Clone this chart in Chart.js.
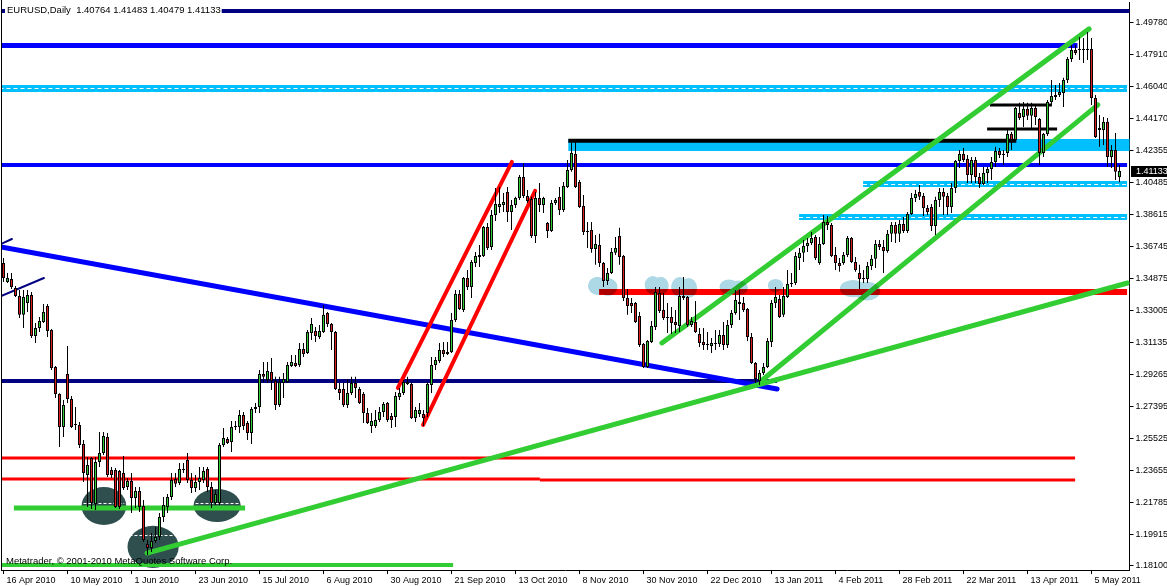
<!DOCTYPE html>
<html>
<head>
<meta charset="utf-8">
<script src="https://cdn.jsdelivr.net/npm/chart.js@4.4.0/dist/chart.umd.min.js"></script>
<style>
  html, body { margin: 0; padding: 0; background: #fff; }
  #wrap { width: 1167px; height: 586px; }
</style>
</head>
<body>
<div id="wrap"><canvas id="chart" width="1167" height="586"></canvas></div>
<script>
// EURUSD daily, 16 Apr 2010 .. 13 May 2011
const dateTicks = ['16 Apr 2010', '10 May 2010', '1 Jun 2010', '23 Jun 2010', '15 Jul 2010', '6 Aug 2010',
  '30 Aug 2010', '21 Sep 2010', '13 Oct 2010', '8 Nov 2010', '30 Nov 2010', '22 Dec 2010', '13 Jan 2011',
  '4 Feb 2011', '28 Feb 2011', '22 Mar 2011', '13 Apr 2011', '5 May 2011'];
const barsPerTick = 16;
const slots = 282;

const priceTicks = [1.18100, 1.19915, 1.21785, 1.23655, 1.25525, 1.27395, 1.29265, 1.31135, 1.33005,
  1.34875, 1.36745, 1.38615, 1.40485, 1.42355, 1.44170, 1.46040, 1.47910, 1.49780];

const opens = [
  1.3576,1.3465,1.3482,1.3430,1.3383,1.3273,1.3342,1.3389,1.3150,1.3196,1.3231,1.3325,1.3185,1.2968,1.2811,1.2618,
  1.2928,1.2782,1.2636,1.2630,1.2519,1.2338,1.2437,1.2169,1.2414,1.2466,1.2560,1.2367,1.2367,1.2361,1.2349,1.2268,
  1.2303,1.2204,1.2245,1.2157,1.1935,1.1911,1.1952,1.1976,1.2093,1.2151,1.2209,1.2315,1.2291,1.2373,1.2426,1.2309,
  1.2262,1.2297,1.2309,1.2373,1.2268,1.2174,1.2174,1.2513,1.2548,1.2531,1.2618,1.2618,1.2688,1.2642,1.2583,1.2723,
  1.2735,1.2928,1.2893,1.2939,1.2887,1.2747,1.2875,1.2881,1.2974,1.2992,1.2980,1.3074,1.3050,1.3167,1.3179,1.3144,
  1.3173,1.3284,1.3220,1.3173,1.2840,1.2840,1.2747,1.2817,1.2875,1.2840,1.2811,1.2700,1.2624,1.2624,1.2659,1.2706,
  1.2758,1.2683,1.2677,1.2794,1.2817,1.2881,1.2869,1.2671,1.2694,1.2694,1.2700,1.2864,1.2980,1.3004,1.3068,1.3056,
  1.3056,1.3243,1.3395,1.3302,1.3488,1.3436,1.3576,1.3611,1.3617,1.3786,1.3669,1.3856,1.3903,1.3915,1.3991,1.3874,
  1.3915,1.3956,1.4078,1.3967,1.3950,1.3734,1.3956,1.3915,1.3810,1.3763,1.3926,1.3962,1.3886,1.4020,1.4119,1.4213,
  1.4049,1.3909,1.3763,1.3769,1.3658,1.3681,1.3576,1.3471,1.3517,1.3635,1.3734,1.3617,1.3372,1.3342,1.3342,1.3267,
  1.3103,1.2968,1.3115,1.3202,1.3400,1.3302,1.3261,1.3261,1.3231,1.3208,1.3383,1.3377,1.3214,1.3231,1.3161,1.3115,
  1.3103,1.3091,1.3109,1.3103,1.3156,1.3097,1.3214,1.3284,1.3348,1.3342,1.3307,1.3144,1.2992,1.2887,1.2934,1.2968,
  1.3115,1.3342,1.3366,1.3273,1.3377,1.3453,1.3459,1.3605,1.3635,1.3675,1.3693,1.3728,1.3576,1.3687,1.3815,1.3798,
  1.3623,1.3576,1.3576,1.3623,1.3722,1.3582,1.3517,1.3488,1.3482,1.3559,1.3600,1.3687,1.3669,1.3646,1.3746,1.3798,
  1.3746,1.3804,1.3763,1.3862,1.3956,1.3991,1.3967,1.3897,1.3903,1.3792,1.3944,1.3991,1.3967,1.3903,1.4014,1.4172,
  1.4213,1.4184,1.4090,1.4178,1.4078,1.4037,1.4102,1.4125,1.4166,1.4230,1.4207,1.4218,1.4329,1.4294,1.4452,1.4429,
  1.4476,1.4435,1.4481,1.4417,1.4218,1.4329,1.4516,1.4557,1.4557,1.4569,1.4645,1.4767,1.4820,1.4820,1.4826,1.4820,
  1.4826,1.4540,1.4364,1.4353,1.4400,1.4195,1.4236,1.40764];
const highs = [
  1.3605,1.3517,1.3517,1.3442,1.3418,1.3418,1.3418,1.3406,1.3225,1.3261,1.3337,1.3337,1.3190,1.2975,1.2815,1.2776,
  1.3091,1.2799,1.2735,1.2647,1.2542,1.2443,1.2443,1.2443,1.2589,1.2589,1.2583,1.2385,1.2379,1.2367,1.2449,1.2320,
  1.2349,1.2268,1.2268,1.2192,1.1958,1.1999,1.2034,1.2116,1.2209,1.2227,1.2349,1.2349,1.2408,1.2408,1.2466,1.2349,
  1.2338,1.2385,1.2385,1.2385,1.2297,1.2250,1.2525,1.2612,1.2560,1.2653,1.2653,1.2718,1.2706,1.2653,1.2735,1.2758,
  1.2951,1.2998,1.2998,1.3021,1.2911,1.2911,1.2934,1.2998,1.3039,1.3039,1.3109,1.3109,1.3185,1.3255,1.3202,1.3214,
  1.3331,1.3290,1.3225,1.3178,1.2875,1.2875,1.2899,1.2911,1.2911,1.2852,1.2823,1.2729,1.2700,1.2718,1.2735,1.2764,
  1.2764,1.2700,1.2823,1.2846,1.2893,1.2911,1.2875,1.2735,1.2758,1.2718,1.2881,1.3027,1.3027,1.3109,1.3115,1.3115,
  1.3284,1.3418,1.3418,1.3494,1.3535,1.3594,1.3640,1.3681,1.3792,1.3810,1.3886,1.4014,1.4020,1.3985,1.4020,1.3944,
  1.3962,1.4090,1.4160,1.4002,1.3962,1.3991,1.4043,1.3962,1.3815,1.3944,1.3956,1.4020,1.4049,1.4178,1.4277,1.4289,
  1.4061,1.3973,1.3815,1.3815,1.3740,1.3746,1.3582,1.3547,1.3664,1.3728,1.3781,1.3623,1.3424,1.3372,1.3348,1.3290,
  1.3109,1.3126,1.3237,1.3436,1.3436,1.3400,1.3342,1.3319,1.3302,1.3436,1.3494,1.3383,1.3261,1.3354,1.3196,1.3196,
  1.3173,1.3138,1.3185,1.3185,1.3231,1.3243,1.3302,1.3418,1.3418,1.3377,1.3313,1.3167,1.2998,1.2951,1.2992,1.3138,
  1.3360,1.3436,1.3389,1.3436,1.3535,1.3517,1.3640,1.3664,1.3710,1.3722,1.3757,1.3740,1.3728,1.3856,1.3850,1.3810,
  1.3669,1.3605,1.3640,1.3734,1.3728,1.3611,1.3565,1.3535,1.3582,1.3623,1.3710,1.3710,1.3710,1.3769,1.3815,1.3815,
  1.3827,1.3845,1.3874,1.3985,1.4002,1.4032,1.3985,1.3915,1.3921,1.3962,1.4014,1.4014,1.3985,1.4043,1.4178,1.4236,
  1.4248,1.4207,1.4195,1.4195,1.4102,1.4137,1.4137,1.4195,1.4254,1.4248,1.4236,1.4353,1.4341,1.4487,1.4511,1.4516,
  1.4511,1.4511,1.4499,1.4423,1.4335,1.4528,1.4645,1.4616,1.4627,1.4657,1.4779,1.4849,1.4849,1.4896,1.4890,1.4925,
  1.4890,1.4557,1.4440,1.4429,1.4423,1.4265,1.4335,1.41483];
const lows = [
  1.3465,1.3459,1.3424,1.3377,1.3255,1.3196,1.3290,1.3138,1.3108,1.3173,1.3225,1.3144,1.2951,1.2788,1.2501,1.2560,
  1.2758,1.2612,1.2601,1.2496,1.2297,1.2151,1.2139,1.2134,1.2385,1.2455,1.2326,1.2320,1.2145,1.2139,1.2250,1.2250,
  1.2116,1.2145,1.2122,1.1946,1.1871,1.1888,1.1941,1.1958,1.2063,1.2116,1.2192,1.2268,1.2280,1.2349,1.2291,1.2233,
  1.2239,1.2250,1.2291,1.2239,1.2145,1.2163,1.2163,1.2501,1.2519,1.2472,1.2601,1.2583,1.2601,1.2542,1.2519,1.2700,
  1.2700,1.2881,1.2875,1.2834,1.2718,1.2735,1.2788,1.2875,1.2968,1.2968,1.2968,1.3027,1.3045,1.3126,1.3115,1.3132,
  1.3167,1.3202,1.3068,1.2834,1.2776,1.2735,1.2729,1.2805,1.2788,1.2753,1.2642,1.2636,1.2583,1.2612,1.2647,1.2677,
  1.2647,1.2612,1.2618,1.2776,1.2805,1.2864,1.2665,1.2647,1.2677,1.2624,1.2677,1.2817,1.2951,1.2992,1.3027,1.3039,
  1.3050,1.3231,1.3302,1.3290,1.3418,1.3372,1.3553,1.3553,1.3611,1.3652,1.3652,1.3821,1.3868,1.3874,1.3815,1.3769,
  1.3897,1.3944,1.3956,1.3926,1.3722,1.3693,1.3874,1.3868,1.3722,1.3757,1.3915,1.3856,1.3874,1.4014,1.4108,1.4014,
  1.3897,1.3740,1.3664,1.3635,1.3565,1.3553,1.3436,1.3448,1.3512,1.3623,1.3565,1.3354,1.3273,1.3284,1.3225,1.3086,
  1.2963,1.2962,1.3109,1.3185,1.3284,1.3243,1.3167,1.3161,1.3167,1.3173,1.3360,1.3202,1.3202,1.3167,1.3086,1.3068,
  1.3068,1.3050,1.3068,1.3086,1.3068,1.3080,1.3196,1.3273,1.3243,1.3290,1.3121,1.2986,1.2875,1.2864,1.2922,1.2963,
  1.3086,1.3313,1.3255,1.3261,1.3372,1.3436,1.3448,1.3535,1.3582,1.3640,1.3681,1.3594,1.3565,1.3681,1.3769,1.3611,
  1.3535,1.3524,1.3565,1.3611,1.3576,1.3524,1.3424,1.3459,1.3459,1.3535,1.3547,1.3652,1.3517,1.3635,1.3699,1.3693,
  1.3699,1.3751,1.3751,1.3856,1.3932,1.3944,1.3850,1.3856,1.3763,1.3740,1.3903,1.3856,1.3856,1.3868,1.3985,1.4131,
  1.4166,1.4043,1.4043,1.4043,1.4014,1.4032,1.4043,1.4061,1.4137,1.4189,1.4148,1.4195,1.4236,1.4283,1.4411,1.4370,
  1.4411,1.4364,1.4382,1.4148,1.4195,1.4318,1.4493,1.4528,1.4545,1.4487,1.4627,1.4750,1.4791,1.4762,1.4744,1.4762,
  1.4499,1.4306,1.4254,1.4265,1.4137,1.4131,1.4061,1.40479];
const closes = [
  1.3488,1.3488,1.3436,1.3383,1.3273,1.3377,1.3389,1.3150,1.3196,1.3237,1.3290,1.3179,1.2963,1.2811,1.2618,1.2747,
  1.2782,1.2618,1.2630,1.2513,1.2349,1.2396,1.2174,1.2414,1.2466,1.2566,1.2338,1.2338,1.2151,1.2151,1.2262,1.2303,
  1.2204,1.2245,1.2151,1.1958,1.1911,1.1952,1.1976,1.2093,1.2163,1.2209,1.2309,1.2286,1.2373,1.2367,1.2309,1.2262,
  1.2297,1.2320,1.2361,1.2268,1.2174,1.2227,1.2513,1.2554,1.2525,1.2618,1.2624,1.2688,1.2624,1.2583,1.2723,1.2735,
  1.2928,1.2911,1.2945,1.2887,1.2747,1.2881,1.2899,1.2980,1.2998,1.2974,1.3074,1.3045,1.3173,1.3220,1.3150,1.3179,
  1.3273,1.3220,1.3173,1.2840,1.2817,1.2747,1.2817,1.2875,1.2846,1.2758,1.2700,1.2642,1.2653,1.2659,1.2706,1.2753,
  1.2659,1.2659,1.2799,1.2817,1.2881,1.2869,1.2671,1.2718,1.2718,1.2671,1.2869,1.2980,1.3010,1.3068,1.3045,1.3045,
  1.3243,1.3395,1.3307,1.3488,1.3436,1.3582,1.3617,1.3623,1.3786,1.3664,1.3856,1.3921,1.3921,1.3932,1.3874,1.3915,
  1.3956,1.4078,1.3967,1.3938,1.3734,1.3956,1.3915,1.3956,1.3763,1.3926,1.3944,1.3886,1.4026,1.4119,1.4218,1.4020,
  1.3903,1.3757,1.3757,1.3658,1.3687,1.3576,1.3471,1.3517,1.3640,1.3664,1.3611,1.3372,1.3325,1.3325,1.3231,1.3097,
  1.2968,1.3121,1.3208,1.3406,1.3296,1.3255,1.3255,1.3225,1.3214,1.3383,1.3372,1.3214,1.3237,1.3173,1.3109,1.3097,
  1.3097,1.3109,1.3103,1.3156,1.3097,1.3214,1.3284,1.3360,1.3337,1.3302,1.3144,1.2992,1.2899,1.2934,1.2968,1.3121,
  1.3342,1.3377,1.3261,1.3383,1.3453,1.3459,1.3617,1.3635,1.3675,1.3693,1.3722,1.3605,1.3687,1.3815,1.3798,1.3617,
  1.3576,1.3559,1.3623,1.3722,1.3582,1.3535,1.3482,1.3482,1.3559,1.3600,1.3687,1.3669,1.3646,1.3746,1.3798,1.3746,
  1.3804,1.3763,1.3862,1.3956,1.3979,1.3962,1.3897,1.3874,1.3792,1.3944,1.3991,1.3962,1.3903,1.4014,1.4172,1.4213,
  1.4178,1.4090,1.4178,1.4078,1.4037,1.4102,1.4125,1.4166,1.4230,1.4207,1.4213,1.4329,1.4294,1.4481,1.4423,1.4476,
  1.4435,1.4481,1.4429,1.4218,1.4329,1.4516,1.4551,1.4545,1.4575,1.4645,1.4767,1.4820,1.4802,1.4826,1.4820,1.4826,
  1.4540,1.4312,1.4353,1.4400,1.4195,1.4236,1.4108,1.41133];

// drawn objects, placed in bar index / price units
const zones = [
  { from: 141.2, to: 282, top: 1.4300, bottom: 1.4230, color: '#00BFFF' }
];
const blobs = [
  { bar: 25.1, price: 1.2157, rx: 5.6, ry: 0.0111, dash: 1.2174 },
  { bar: 53.4, price: 1.2160, rx: 5.9, ry: 0.0096, dash: 1.2174 },
  { bar: 37.4, price: 1.1918, rx: 6.4, ry: 0.0123, dash: 1.1988 }
];
const levels = [
  { price: 1.5048, from: -1, to: 282, color: '#000080', width: 4 },
  { price: 1.4846, from: -1, to: 268.5, color: '#0000FF', width: 5 },
  { price: 1.4595, from: -1, to: 280.9, color: '#00BFFF', width: 7, dash: true },
  { price: 1.4148, from: -1, to: 280.9, color: '#0000FF', width: 4 },
  { price: 1.4037, from: 214.9, to: 280.9, color: '#00BFFF', width: 6, dash: true },
  { price: 1.3845, from: 198.9, to: 280.9, color: '#00BFFF', width: 6, dash: true },
  { price: 1.4289, from: 141.2, to: 253.2, color: '#000000', width: 4 },
  { price: 1.4499, from: 246.6, to: 262.1, color: '#000000', width: 3 },
  { price: 1.4359, from: 245.9, to: 263.4, color: '#000000', width: 3 },
  { price: 1.3407, from: 148.9, to: 280.9, color: '#FF0000', width: 6 },
  { price: 1.2887, from: -1, to: 193.4, color: '#000080', width: 4 },
  { price: 1.2437, from: -1, to: 267.9, color: '#FF0000', width: 3 },
  { price: 1.2315, from: -1, to: 134.1, color: '#FF0000', width: 3 },
  { price: 1.2309, from: 134.1, to: 267.9, color: '#FF0000', width: 3 },
  { price: 1.2145, from: 2.6, to: 60.4, color: '#32CD32', width: 5 },
  { price: 1.1812, from: -1, to: 112.4, color: '#32CD32', width: 4 }
];
const trends = [
  { a: [-0.6, 1.3669], b: [193.4, 1.2840], color: '#0000FF', width: 5 },
  { a: [-0.6, 1.3383], b: [10.1, 1.3488], color: '#000080', width: 2 },
  { a: [-0.6, 1.3687], b: [2.1, 1.3716], color: '#000080', width: 2 },
  { a: [98.6, 1.2846], b: [127.1, 1.4166], color: '#FF0000', width: 4 },
  { a: [104.9, 1.2630], b: [132.9, 1.3997], color: '#FF0000', width: 4 },
  { a: [35.9, 1.1882], b: [281, 1.3459], color: '#32CD32', width: 5 },
  { a: [164.6, 1.3109], b: [271.4, 1.4943], color: '#32CD32', width: 5 },
  { a: [189.4, 1.2887], b: [273.6, 1.4499], color: '#32CD32', width: 5 }
];
const clouds = [
  [[148.5, 1.3442, 2.4, 0.0053], [151.1, 1.3436, 2.4, 0.0052]],
  [[162.3, 1.3447, 2.0, 0.0053], [164.3, 1.3443, 2.0, 0.0052]],
  [[169.1, 1.3436, 2.2, 0.0058], [171.3, 1.3430, 2.1, 0.0058]],
  [[181.4, 1.3436, 2.4, 0.0044], [183.8, 1.3431, 2.3, 0.0042]],
  [[193.0, 1.3445, 1.9, 0.0038]],
  [[212.4, 1.3426, 3.3, 0.0050], [215.9, 1.3412, 3.3, 0.0055]]
];

const font = "'Liberation Sans', Arial, sans-serif";
const bull = '#32CD32', bear = '#DC1E1E';

const barLabels = [];
for (let i = 0; i < slots; i++) {
  barLabels.push(i % barsPerTick === 0 && dateTicks[i / barsPerTick] ? dateTicks[i / barsPerTick] : '');
}
const bodies = opens.map((o, i) => [Math.min(o, closes[i]), Math.max(o, closes[i])]);
const wicks = lows.map((l, i) => [l, highs[i]]);
const bodyColors = opens.map((o, i) => closes[i] >= o ? bull : bear);

const overlay = {
  id: 'overlay',
  beforeDatasetsDraw(chart) {
    const { ctx, chartArea: a, scales: { x, y } } = chart;
    const X = v => x.getPixelForValue(v);
    const Y = v => y.getPixelForValue(v);
    ctx.save();
    ctx.beginPath();
    ctx.rect(a.left, a.top, a.right - a.left, a.bottom - a.top);
    ctx.clip();

    zones.forEach(z => {
      ctx.fillStyle = z.color;
      ctx.fillRect(X(z.from), Y(z.top), X(z.to) - X(z.from), Y(z.bottom) - Y(z.top));
    });

    blobs.forEach(e => {
      const cx = X(e.bar), cy = Y(e.price);
      const rx = X(e.bar + e.rx) - cx, ry = Y(e.price - e.ry) - cy;
      ctx.fillStyle = '#2F4F4F';
      ctx.beginPath();
      ctx.ellipse(cx, cy, rx, ry, 0, 0, Math.PI * 2);
      ctx.fill();
      ctx.strokeStyle = '#fff';
      ctx.lineWidth = 1;
      ctx.setLineDash([3, 2]);
      ctx.beginPath();
      ctx.moveTo(cx - rx + 2, Math.round(Y(e.dash)) + 0.5);
      ctx.lineTo(cx + rx - 2, Math.round(Y(e.dash)) + 0.5);
      ctx.stroke();
      ctx.setLineDash([]);
    });

    levels.forEach(l => {
      const yy = Y(l.price);
      ctx.strokeStyle = l.color;
      ctx.lineWidth = l.width;
      ctx.lineCap = 'butt';
      ctx.beginPath();
      ctx.moveTo(X(l.from), yy);
      ctx.lineTo(X(l.to), yy);
      ctx.stroke();
      if (l.dash) {
        ctx.strokeStyle = '#fff';
        ctx.lineWidth = 1;
        ctx.setLineDash([4, 3]);
        ctx.beginPath();
        ctx.moveTo(X(l.from), Math.round(yy) + 0.5);
        ctx.lineTo(X(l.to), Math.round(yy) + 0.5);
        ctx.stroke();
        ctx.setLineDash([]);
      }
    });

    trends.forEach(t => {
      ctx.strokeStyle = t.color;
      ctx.lineWidth = t.width;
      ctx.lineCap = 'round';
      ctx.beginPath();
      ctx.moveTo(X(t.a[0]), Y(t.a[1]));
      ctx.lineTo(X(t.b[0]), Y(t.b[1]));
      ctx.stroke();
    });

    ctx.globalCompositeOperation = 'multiply';
    ctx.fillStyle = '#ADD8E6';
    clouds.forEach(c => {
      ctx.beginPath();
      c.forEach(([bar, price, rx, ry]) => {
        const cx = X(bar), cy = Y(price);
        const px = X(bar + rx) - cx, py = Y(price - ry) - cy;
        ctx.moveTo(cx + px, cy);
        ctx.ellipse(cx, cy, px, py, 0, 0, Math.PI * 2);
      });
      ctx.fill();
    });
    ctx.restore();
  },
  afterDraw(chart) {
    const { ctx, chartArea: a, scales: { y } } = chart;
    ctx.save();
    // left frame
    ctx.strokeStyle = '#000';
    ctx.lineWidth = 1;
    ctx.beginPath();
    ctx.moveTo(Math.floor(a.left) + 0.5, 0);
    ctx.lineTo(Math.floor(a.left) + 0.5, a.bottom);
    ctx.stroke();

    // last price marker
    const last = closes[closes.length - 1];
    const ly = Math.round(y.getPixelForValue(last));
    ctx.fillStyle = '#000';
    ctx.fillRect(Math.ceil(a.right) + 1, ly - 5, 40, 11);
    ctx.fillStyle = '#fff';
    ctx.font = '9px ' + font;
    ctx.textBaseline = 'middle';
    ctx.fillText(last.toFixed(5), Math.ceil(a.right) + 6, ly + 0.5);

    // chart title
    const title = 'EURUSD,Daily  ' + [opens, highs, lows, closes].map(s => s[s.length - 1].toFixed(5)).join(' ');
    ctx.font = '9.5px ' + font;
    const tw = ctx.measureText(title).width;
    ctx.fillStyle = '#fff';
    ctx.fillRect(5, 3, tw + 3, 13);
    ctx.fillStyle = '#000';
    ctx.fillText(title, 7, 10);

    ctx.fillText('Metatrader, \u00A9 2001-2010 MetaQuotes Software Corp.', 6, 561);
    ctx.restore();
  }
};

new Chart(document.getElementById('chart'), {
  type: 'bar',
  data: {
    labels: barLabels,
    datasets: [
      {
        label: 'body', data: bodies, backgroundColor: bodyColors, borderColor: '#000', borderWidth: 1,
        borderSkipped: false, barThickness: 3, minBarLength: 1, grouped: false, order: 0, inflateAmount: 0
      },
      {
        label: 'wick', data: wicks, backgroundColor: '#000', borderWidth: 0,
        barThickness: 1, grouped: false, order: 1, inflateAmount: 0
      }
    ]
  },
  options: {
    responsive: false,
    animation: false,
    devicePixelRatio: 1,
    layout: { padding: { left: 1.5, top: 2, right: 0, bottom: 0 } },
    plugins: { legend: { display: false }, tooltip: { enabled: false } },
    scales: {
      x: {
        offset: true,
        grid: { display: true, drawOnChartArea: false, drawTicks: true, tickLength: 4, offset: false, color: '#000' },
        border: { display: true, color: '#000' },
        ticks: {
          autoSkip: false, maxRotation: 0, minRotation: 0, align: 'start', labelOffset: 3, padding: 1,
          color: '#000', font: { family: font, size: 9 }
        },
        afterBuildTicks: s => { s.ticks = s.ticks.filter(t => t.value % barsPerTick === 0 && barLabels[t.value]); },
        afterFit: s => { s.height = 16; s.paddingLeft = 0; s.paddingRight = 0; }
      },
      y: {
        position: 'right',
        min: 1.1783,
        max: 1.5100,
        grid: { drawOnChartArea: false, drawTicks: true, tickLength: 4, color: '#000' },
        border: { display: true, color: '#000' },
        ticks: {
          autoSkip: false, padding: 2, color: '#000', font: { family: font, size: 9 },
          callback: v => Number(v).toFixed(5)
        },
        afterBuildTicks: s => { s.ticks = priceTicks.map(v => ({ value: v })); },
        afterFit: s => { s.width = 37.5; s.paddingTop = 0; s.paddingBottom = 0; }
      }
    }
  },
  plugins: [overlay]
});
</script>
</body>
</html>
